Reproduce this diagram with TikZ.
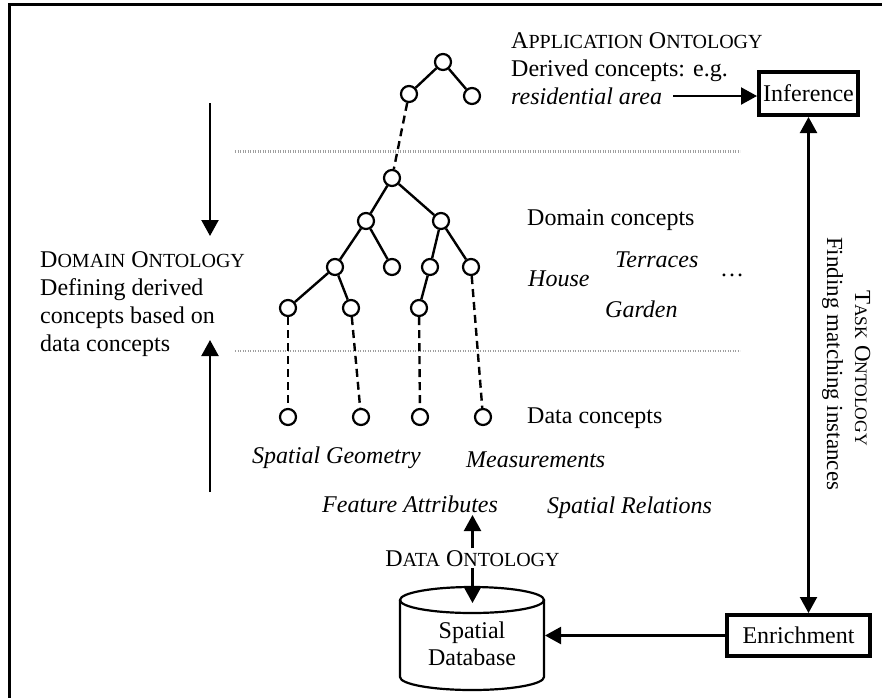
\documentclass[tikz,border=0pt]{standalone}
\usepackage{fontspec}
\setmainfont{Liberation Serif}
\usetikzlibrary{arrows.meta,calc}
\newcommand{\fsc}[2]{#1{\fontsize{20}{28}\selectfont #2}}
\newcommand{\fscr}[2]{#1{\fontsize{17.5}{28}\selectfont #2}}
\begin{document}
\begin{tikzpicture}[x=1pt,y=-1pt,
  font=\fontsize{24}{28}\selectfont,
  cnode/.style={circle,draw,line width=2.2pt,minimum size=16pt,inner sep=0pt,fill=white},
  edge/.style={line width=2.4pt},
  dedge/.style={line width=2.4pt,dash pattern=on 8pt off 5pt},
  sep/.style={gray!75,line width=2.2pt,dash pattern=on 1.4pt off 1.1pt},
  arr/.style={line width=2.2pt,-{Triangle[length=16pt,width=17pt]}},
  darr/.style={line width=2.2pt,{Triangle[length=16pt,width=17pt]}-{Triangle[length=16pt,width=17pt]}},
  txt/.style={anchor=base west,inner sep=0pt},
  itxt/.style={anchor=base west,inner sep=0pt,font=\fontsize{24}{28}\selectfont\itshape},
  box/.style={draw,line width=4pt,inner sep=0pt}]
\useasboundingbox (0,0) rectangle (882,697);
% frame
\draw[line width=3.5pt] (9.5,700) -- (9.5,4.5) -- (885,4.5);
% separators
\draw[sep] (235,151.5) -- (740,151.5);
\draw[sep] (235,351) -- (740,351);
% application tree
\node[cnode] (a0) at (443,62) {};
\node[cnode] (a1) at (409,94) {};
\node[cnode] (a2) at (472,96) {};
% domain tree
\node[cnode] (d0) at (392,178) {};
\node[cnode] (d1) at (366,221) {};
\node[cnode] (d2) at (441,221) {};
\node[cnode] (d3) at (335,267) {};
\node[cnode] (d4) at (392,267) {};
\node[cnode] (d5) at (430,267) {};
\node[cnode] (d6) at (471,267) {};
\node[cnode] (d7) at (288,308) {};
\node[cnode] (d8) at (351,308) {};
\node[cnode] (d9) at (419,308) {};
% data nodes
\node[cnode] (e1) at (288,417) {};
\node[cnode] (e2) at (361,417) {};
\node[cnode] (e3) at (420,417) {};
\node[cnode] (e4) at (483,417) {};
% edges
\draw[edge] (a0) -- (a1);
\draw[edge] (a0) -- (a2);
\draw[dedge] (a1) -- (d0);
\draw[edge] (d0) -- (d1);
\draw[edge] (d0) -- (d2);
\draw[edge] (d1) -- (d3);
\draw[edge] (d1) -- (d4);
\draw[edge] (d2) -- (d5);
\draw[edge] (d2) -- (d6);
\draw[edge] (d3) -- (d7);
\draw[edge] (d3) -- (d8);
\draw[edge] (d5) -- (d9);
\draw[dedge] (d7) -- (e1);
\draw[dedge] (d8) -- (e2);
\draw[dedge] (d9) -- (e3);
\draw[dedge] (d6) -- (e4);
% application texts
\node[txt] (ao) at (511,48) {\fsc{A}{PPLICATION} \fsc{O}{NTOLOGY}};
\node[txt] (dc) at (511,76) {Derived concepts: e.g.};
\node[itxt] (ra) at (511,104) {residential area};
\node[box,minimum width=99pt,minimum height=43pt] (inf) at (808.5,93.5) {Inference};
\coordinate (raend) at (673,96);
\draw[arr] (raend) -- (inf.west |- raend);
% domain texts
\node[txt] (dom) at (527,225) {Domain concepts};
\node[itxt] (house) at (528,286) {House};
\node[itxt] (terr) at (615,267) {Terraces};
\node[txt] (dots) at (720,276) {\ldots};
\node[itxt] (gard) at (605,317) {Garden};
\node[txt] (do1) at (40,267) {\fsc{D}{OMAIN} \fsc{O}{NTOLOGY}};
\node[txt] (do2) at (40,295.5) {Defining derived};
\node[txt] (do3) at (40,323.5) {concepts based on};
\node[txt] (do4) at (40,351.5) {data concepts};
\coordinate (la1) at (210,103);
\coordinate (la2) at (210,236);
\coordinate (lb1) at (210,492);
\coordinate (lb2) at (210,340);
\draw[arr] (la1) -- (la2);
\draw[arr] (lb1) -- (lb2);
% data texts
\node[txt] (dac) at (527,423) {Data concepts};
\node[itxt] (sg) at (252,463) {Spatial Geometry};
\node[itxt] (meas) at (466,467) {Measurements};
\node[itxt] (fa) at (322,512) {Feature Attributes};
\node[itxt] (sr) at (547,513) {Spatial Relations};
\node[anchor=base,inner sep=1.5pt] (dato) at (472.5,566) {\fsc{D}{ATA} \fsc{O}{NTOLOGY}};
\coordinate (faB) at (472.5,515);
\draw[arr] (dato.north) -- (faB);
% database cylinder
\coordinate (dbtop) at (472.5,603);
\coordinate (dbright) at (545,636);
\draw[line width=2.2pt,fill=white] (400,600) -- (400,677) arc[start angle=180,end angle=0,x radius=72,y radius=13] -- (544,600);
\draw[line width=2.2pt] (472,600) ellipse[x radius=72,y radius=13];
\node[anchor=base,inner sep=0pt] (sp) at (472,638) {Spatial};
\node[anchor=base,inner sep=0pt] (db) at (472,665) {Database};
\draw[arr] (dato.south) -- (dbtop);
% enrichment
\node[box,minimum width=143pt,minimum height=41pt] (enr) at (798.5,635.5) {Enrichment};
\draw[arr] (enr.west) -- (enr.west -| dbright);
\draw[darr] (inf.south) -- (inf.south |- enr.north);
% task ontology
\node[txt,rotate=-90,font=\fontsize{23}{28}\selectfont] (to1) at (855,290) {\fscr{T}{ASK} \fscr{O}{NTOLOGY}};
\node[txt,rotate=-90,font=\fontsize{23}{28}\selectfont] (to2) at (827,237) {Finding matching instances};
\end{tikzpicture}
\end{document}
